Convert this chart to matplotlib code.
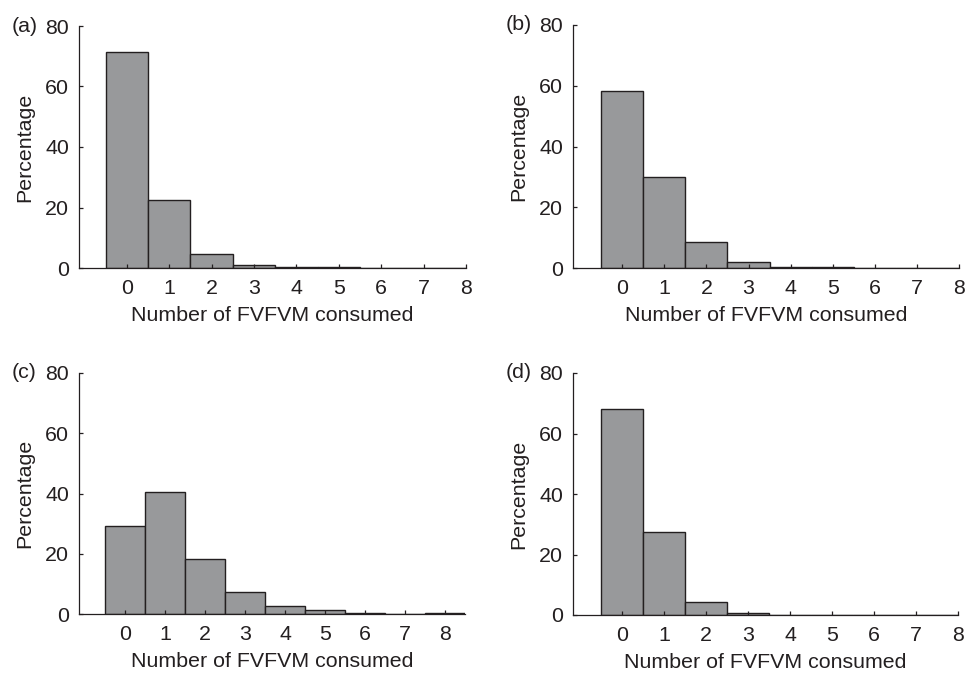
import matplotlib
matplotlib.use("Agg")
import matplotlib.pyplot as plt

plt.rcParams['font.family'] = ['Liberation Sans', 'DejaVu Sans']

# number of FVFVM consumed (x categories)
counts = [0, 1, 2, 3, 4, 5, 6, 7, 8]

# percentage per panel
pct_a = [71.3, 22.4, 4.6, 1.1, 0.3, 0.2, 0.0, 0.0, 0.0]
pct_b = [58.4, 29.9, 8.5, 2.1, 0.4, 0.2, 0.0, 0.0, 0.0]
pct_c = [29.2, 40.6, 18.3, 7.3, 2.8, 1.2, 0.3, 0.1, 0.2]
pct_d = [68.0, 27.3, 4.2, 0.5, 0.0, 0.0, 0.0, 0.0, 0.0]

panel_labels = ['(a)', '(b)', '(c)', '(d)']
xlabel = 'Number of FVFVM consumed'
ylabel = 'Percentage'

W, H = 965, 678
fig = plt.figure(figsize=(W / 100, H / 100), dpi=100)

# axes boxes in pixels: left, right, top, bottom
boxes = [
    (79, 466, 26, 268),
    (573, 959, 25, 268),
    (79, 465, 373, 614),
    (573, 958, 373, 615),
]
xlims = [(-1.13, 8), (-1.17, 8), (-1.15, 8.5), (-1.17, 8)]
data = [pct_a, pct_b, pct_c, pct_d]

ink = '#231f20'
fs = 15.4

for box, xl, vals, lab in zip(boxes, xlims, data, panel_labels):
    l, r, t, b = box
    ax = fig.add_axes([l / W, (H - b) / H, (r - l) / W, (b - t) / H])
    ax.bar(counts, vals, width=1.0, color='#98999b', edgecolor=ink, linewidth=1.0)
    ax.set_xlim(*xl)
    ax.set_ylim(0, 80)
    ax.set_xticks(counts)
    ax.set_yticks([0, 20, 40, 60, 80])
    for s in ['top', 'right']:
        ax.spines[s].set_visible(False)
    for s in ['left', 'bottom']:
        ax.spines[s].set_color(ink)
        ax.spines[s].set_linewidth(0.9)
    ax.tick_params(direction='in', length=3, width=0.9, color=ink,
                   labelsize=fs, labelcolor=ink)
    ax.tick_params(axis='x', pad=8)
    ax.tick_params(axis='y', pad=7)
    ax.set_xlabel(xlabel, fontsize=fs, color=ink, labelpad=6)
    ax.set_ylabel(ylabel, fontsize=fs, color=ink, labelpad=8)
    fig.text((l - 67) / W, (H - t) / H, lab, fontsize=fs, color=ink,
             ha='left', va='center')

fig.savefig('out.png', dpi=100)
